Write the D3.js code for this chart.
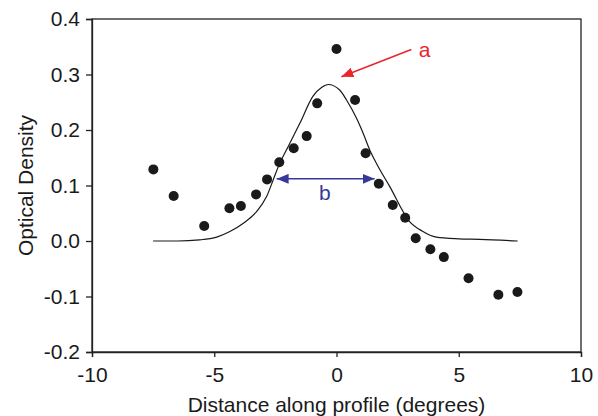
<!DOCTYPE html>
<html>
<head>
<meta charset="utf-8">
<script src="https://cdn.jsdelivr.net/npm/d3@7"></script>
<style>
  body { margin: 0; background: #fff; }
  text { font-family: "Liberation Sans", Arial, sans-serif; }
</style>
</head>
<body>
<div id="chart"></div>
<script>
// measured points (distance, optical density)
const ptX = [-7.49, -6.66, -5.41, -4.38, -3.91, -3.29, -2.84, -2.34, -1.75, -1.22, -0.79, 0.0, 0.76, 1.19, 1.73, 2.30, 2.81, 3.24, 3.84, 4.39, 5.40, 6.62, 7.40];
const ptY = [0.129, 0.081, 0.027, 0.059, 0.063, 0.084, 0.111, 0.142, 0.167, 0.189, 0.248, 0.346, 0.254, 0.158, 0.103, 0.065, 0.042, 0.005, -0.015, -0.029, -0.067, -0.097, -0.092];

// fitted curve
const fitX = [-7.5, -6.5, -5.6, -4.9, -4.36, -3.81, -3.27, -2.86, -2.59, -2.38, -1.98, -1.5, -0.96, -0.6, -0.34, 0.13, 0.41, 0.82, 1.09, 1.36, 1.63, 2.18, 2.99, 3.5, 4.08, 5.0, 5.85, 7.41];
const fitY = [0.0, 0.0, 0.002, 0.007, 0.017, 0.032, 0.053, 0.080, 0.110, 0.134, 0.170, 0.212, 0.261, 0.277, 0.282, 0.272, 0.254, 0.221, 0.194, 0.164, 0.140, 0.098, 0.035, 0.018, 0.007, 0.004, 0.003, 0.0];

const xTicks = [-10, -5, 0, 5, 10];
const yTicks = [-0.2, -0.1, 0.0, 0.1, 0.2, 0.3, 0.4];

// annotations
const arrowA = {x1: 3.06, y1: 0.345, x2: 0.2, y2: 0.296, label: "a", lx: 3.6, ly: 0.344};
const arrowB = {x1: -2.45, x2: 1.56, y: 0.112, label: "b", lx: -0.48, ly: 0.088};

const W = 598, H = 416;
const margin = {top: 19, right: 17, bottom: 64, left: 92};
const width = W - margin.left - margin.right,
      height = H - margin.top - margin.bottom;

const svg = d3.select("#chart").append("svg")
    .attr("width", W).attr("height", H);

const defs = svg.append("defs");
function head(id, color) {
  defs.append("marker")
      .attr("id", id)
      .attr("viewBox", "0 0 12 10")
      .attr("refX", 12).attr("refY", 5)
      .attr("markerWidth", 12).attr("markerHeight", 10)
      .attr("markerUnits", "userSpaceOnUse")
      .attr("orient", "auto-start-reverse")
    .append("path")
      .attr("d", "M0,0L12,5L0,10Z")
      .attr("fill", color);
}
head("redHead", "#e8262c");
head("blueHead", "#36399a");

const g = svg.append("g")
    .attr("transform", `translate(${margin.left},${margin.top})`);

const x = d3.scaleLinear().domain([-10, 10]).range([0, width]);
const y = d3.scaleLinear().domain([-0.2, 0.4]).range([height, 0]);

// frame
g.append("rect")
    .attr("width", width).attr("height", height)
    .attr("fill", "none").attr("stroke", "#222").attr("stroke-width", 1.3);

// plain hyphen for negatives, like the original
const xAxis = g.append("g")
    .attr("transform", `translate(0,${height})`)
    .call(d3.axisBottom(x).tickValues(xTicks).tickSize(5).tickPadding(10).tickFormat(d => String(d)));
const yAxis = g.append("g")
    .call(d3.axisLeft(y).tickValues(yTicks).tickSize(6).tickPadding(6).tickFormat(d => d.toFixed(1)));

[xAxis, yAxis].forEach(a => {
  a.select(".domain").attr("stroke", "#222").attr("stroke-width", 1.3);
  a.selectAll(".tick line").attr("stroke", "#222").attr("stroke-width", 1.3);
  a.selectAll(".tick text").attr("font-size", 21).attr("fill", "#1a1a1a")
    .attr("font-family", "Liberation Sans, Arial, sans-serif");
});

// fitted line
const fit = fitX.map((v, i) => [v, fitY[i]]);
g.append("path")
    .datum(fit)
    .attr("fill", "none")
    .attr("stroke", "#1a1a1a")
    .attr("stroke-width", 1.2)
    .attr("d", d3.line().x(d => x(d[0])).y(d => y(d[1])).curve(d3.curveMonotoneX));

// points
g.selectAll("circle.pt")
  .data(ptX.map((v, i) => [v, ptY[i]]))
  .join("circle")
    .attr("class", "pt")
    .attr("cx", d => x(d[0]))
    .attr("cy", d => y(d[1]))
    .attr("r", 5)
    .attr("fill", "#1a1a1a");

// arrow a
g.append("line")
    .attr("x1", x(arrowA.x1)).attr("y1", y(arrowA.y1))
    .attr("x2", x(arrowA.x2)).attr("y2", y(arrowA.y2))
    .attr("stroke", "#e8262c").attr("stroke-width", 1.5)
    .attr("marker-end", "url(#redHead)");
g.append("text")
    .attr("x", x(arrowA.lx)).attr("y", y(arrowA.ly))
    .attr("dy", "0.35em")
    .attr("text-anchor", "middle")
    .attr("font-size", 21).attr("fill", "#e8262c")
    .text(arrowA.label);

// arrow b
g.append("line")
    .attr("x1", x(arrowB.x1)).attr("y1", y(arrowB.y))
    .attr("x2", x(arrowB.x2)).attr("y2", y(arrowB.y))
    .attr("stroke", "#36399a").attr("stroke-width", 1.5)
    .attr("marker-start", "url(#blueHead)")
    .attr("marker-end", "url(#blueHead)");
g.append("text")
    .attr("x", x(arrowB.lx)).attr("y", y(arrowB.ly))
    .attr("dy", "0.35em")
    .attr("text-anchor", "middle")
    .attr("font-size", 21).attr("fill", "#36399a")
    .text(arrowB.label);

// axis titles
svg.append("text")
    .attr("x", margin.left + width / 2).attr("y", 412)
    .attr("text-anchor", "middle")
    .attr("font-size", 21).attr("fill", "#1a1a1a")
    .text("Distance along profile (degrees)");
svg.append("text")
    .attr("transform", `translate(33,${margin.top + height / 2}) rotate(-90)`)
    .attr("text-anchor", "middle")
    .attr("font-size", 21).attr("fill", "#1a1a1a")
    .text("Optical Density");
</script>
</body>
</html>
